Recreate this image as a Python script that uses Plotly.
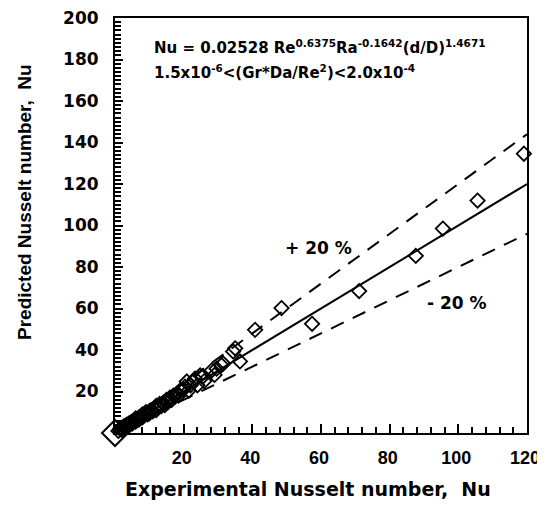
import plotly.graph_objects as go

# Experimental vs predicted Nusselt numbers
exp_nu = [1, 1.5, 2, 2, 2.5, 3, 3, 3.5, 4, 4, 4.5, 5, 5, 5.5, 6, 6, 6.5, 7, 7, 7.5,
          8, 8, 8.5, 9, 9.5, 10, 10, 10.5, 11, 11.5, 12, 12, 12.5, 13, 13.5, 14,
          14.5, 15, 15.5, 16, 16.5, 17, 17.5, 18, 18.5, 19, 20, 20.4, 20.9, 21.5,
          22, 22.8, 23.3, 24, 24.8, 25.6, 26, 28.2, 29, 29.6, 31, 31.5, 34.4, 35,
          36.4, 40.8, 48.5, 57.4, 71.1, 87.6, 95.5, 105.6, 119.1]
pred_nu = [1, 2, 1.5, 2.5, 3, 2.5, 3.5, 4, 3.5, 4.5, 5, 4.5, 5.5, 6, 5.5, 7, 6.5, 7.5, 6.5, 8,
           7.5, 9, 8.5, 10, 9, 10.5, 9.5, 11, 10.5, 12, 11, 13, 12.5, 14, 13, 14.5,
           13.5, 16, 15, 17, 16, 18, 17.5, 19, 18, 20.5, 21, 22.3, 24.8, 20.5,
           23, 24.8, 26.2, 23, 27.8, 27.2, 25, 30.2, 28, 31, 32.7, 33.5, 39.3, 40.8,
           34.5, 49.7, 60.2, 52.6, 68.4, 85.4, 98.5, 112, 134.6]

line_x = [0, 120]
perfect = [0, 120]
plus20 = [0, 144]
minus20 = [0, 96]

x_tickvals = [20, 40, 60, 80, 100, 120]
y_tickvals = [20, 40, 60, 80, 100, 120, 140, 160, 180, 200]

FONT = "Liberation Sans"
WIDE = "DejaVu Sans"

# page body has an 8px margin: figure drawn at (8, 8) in the window
OFF = 8
W, H = 545 - OFF, 508 - 2 * OFF
# plot area in window pixels: x 115..527, y 18..433
X0, X1, Y0, Y1 = 115, 527, 18, 433
L, T = X0 - OFF, Y0 - OFF
R, B = W - (X1 - OFF), H - (Y1 - OFF)
PW, PH = X1 - X0, Y1 - Y0


def px(xw):
    return (xw - X0) / PW


def py(yw):
    return (Y1 - yw) / PH


fig = go.Figure()
fig.add_trace(go.Scatter(x=line_x, y=perfect, mode="lines",
                         line=dict(color="black", width=2), showlegend=False))
fig.add_trace(go.Scatter(x=line_x, y=plus20, mode="lines",
                         line=dict(color="black", width=2, dash="14px,10px"), showlegend=False))
fig.add_trace(go.Scatter(x=line_x, y=minus20, mode="lines",
                         line=dict(color="black", width=2, dash="14px,10px"), showlegend=False))
fig.add_trace(go.Scatter(x=exp_nu, y=pred_nu, mode="markers",
                         marker=dict(symbol="diamond-open", size=11, color="black",
                                     line=dict(width=1.8, color="black")),
                         showlegend=False, cliponaxis=False))
fig.add_trace(go.Scatter(x=[0], y=[0], mode="markers",
                         marker=dict(symbol="diamond-open", size=20, color="black",
                                     line=dict(width=2, color="black")),
                         showlegend=False, cliponaxis=False))

fig.update_layout(
    width=W, height=H,
    margin=dict(l=L, r=R, t=T, b=B, autoexpand=False),
    plot_bgcolor="white", paper_bgcolor="white",
    font=dict(family=FONT, color="black"),
)
fig.update_xaxes(range=[0, 120], tickvals=x_tickvals, automargin=False,
                 ticks="inside", ticklen=9, tickwidth=1.5, tickcolor="black",
                 minor=dict(dtick=4, ticks="inside", ticklen=6, tickwidth=1.5, tickcolor="black"),
                 showline=True, linecolor="black", linewidth=2, mirror=True,
                 showgrid=False, zeroline=False, ticklabelstandoff=7,
                 ticklabelshift=-2, ticklabeloverflow="allow",
                 tickfont=dict(family=FONT, size=18, color="black", weight="bold"))
fig.update_yaxes(range=[0, 200], tickvals=y_tickvals, automargin=False,
                 ticks="inside", ticklen=8, tickwidth=1.5, tickcolor="black",
                 minor=dict(dtick=2, ticks="inside", ticklen=6, tickwidth=1.5, tickcolor="black"),
                 showline=True, linecolor="black", linewidth=2, mirror=True,
                 showgrid=False, zeroline=False, ticklabelstandoff=11,
                 ticklabeloverflow="allow",
                 tickfont=dict(family=WIDE, size=17, color="black", weight="bold"))

fig.add_annotation(text="<b>Experimental Nusselt number,  Nu</b>", xref="paper", yref="paper",
                   x=px(308), y=py(489), showarrow=False,
                   font=dict(size=19, family=WIDE), xanchor="center", yanchor="middle")
fig.add_annotation(text="<b>Predicted Nusselt number,  Nu</b>", xref="paper", yref="paper",
                   x=px(24), y=py(202), showarrow=False, textangle=-90,
                   font=dict(size=19, family=FONT), xanchor="center", yanchor="middle")
fig.add_annotation(text="<b>Nu = 0.02528 Re<sup>0.6375</sup>Ra<sup>-0.1642</sup>(d/D)<sup>1.4671</sup></b>",
                   xref="paper", yref="paper", x=px(152), y=py(47),
                   showarrow=False, xanchor="left", yanchor="middle",
                   font=dict(size=15, family=WIDE))
fig.add_annotation(text="<b>1.5x10<sup>-6</sup><(Gr*Da/Re<sup>2</sup>)<2.0x10<sup>-4</sup></b>",
                   xref="paper", yref="paper", x=px(152), y=py(72),
                   showarrow=False, xanchor="left", yanchor="middle",
                   font=dict(size=15, family=WIDE))
fig.add_annotation(text="<b>+ 20 %</b>", xref="paper", yref="paper",
                   x=px(283), y=py(248), showarrow=False,
                   xanchor="left", yanchor="middle", font=dict(size=17, family=WIDE))
fig.add_annotation(text="<b>- 20 %</b>", xref="paper", yref="paper",
                   x=px(425), y=py(303), showarrow=False,
                   xanchor="left", yanchor="middle", font=dict(size=17, family=WIDE))

fig.write_html("out.html")
